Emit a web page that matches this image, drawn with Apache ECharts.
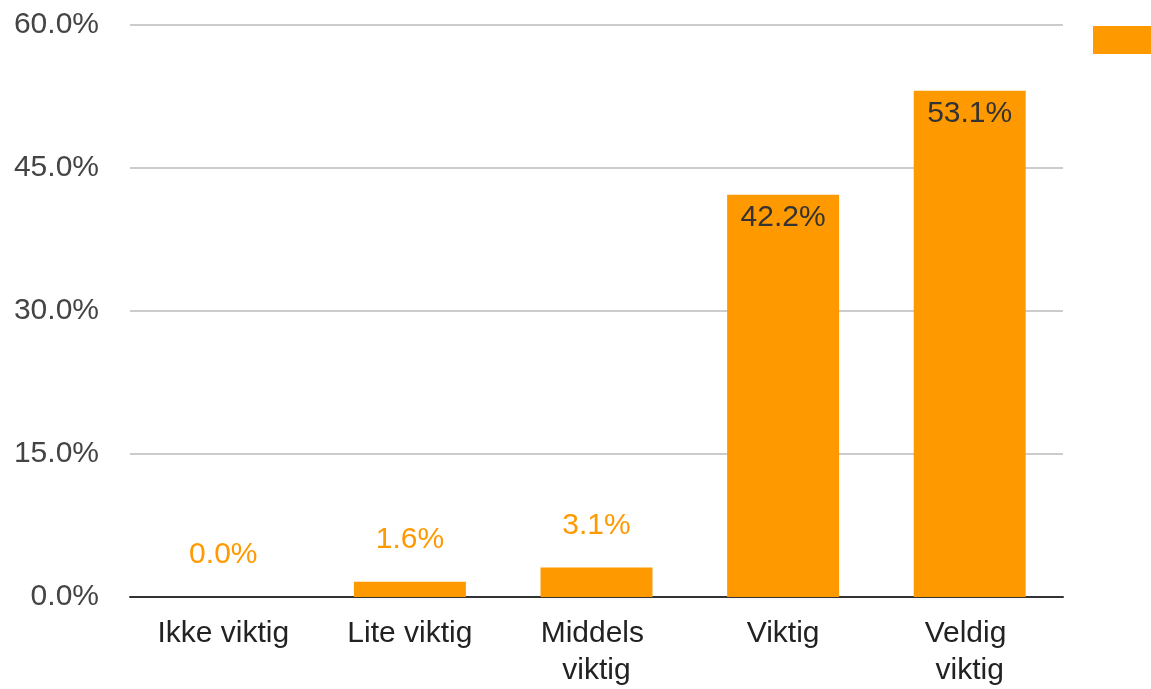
<!DOCTYPE html>
<html>
<head>
<meta charset="utf-8">
<script src="https://cdn.jsdelivr.net/npm/echarts@6/dist/echarts.min.js"></script>
<style>
  html, body { margin: 0; padding: 0; background: #fff; }
  #chart { width: 1151px; height: 689px; }
</style>
</head>
<body>
<div id="chart"></div>
<script>
var categories = ["Ikke viktig", "Lite viktig", "Middels viktig", "Viktig", "Veldig viktig"];
var values = [0.0, 1.6, 3.1, 42.2, 53.1];
var yTicks = { min: 0, max: 60, interval: 15 };

var chart = echarts.init(document.getElementById("chart"));

// small bars get the label above in orange, tall bars inside in dark grey
var barData = values.map(function(v) {
  var big = v > 10;
  return {
    value: v,
    label: big
      ? { position: "insideTop", distance: 8, color: "#333" }
      : { position: "top", distance: 27, color: "#ff9900" }
  };
});

var option = {
  animation: false,
  textStyle: { fontFamily: "Liberation Sans, Arial, sans-serif" },
  grid: { left: 130, right: 88, top: 25, bottom: 90 },
  legend: {
    left: 1088,
    top: 20,
    icon: "rect",
    itemWidth: 80,
    itemHeight: 28,
    itemStyle: { borderWidth: 0 },
    textStyle: { fontSize: 30, color: "#222" },
    data: ["Andel"]
  },
  xAxis: {
    type: "category",
    data: categories,
    axisTick: { show: false },
    axisLine: { lineStyle: { color: "#333", width: 2 } },
    axisLabel: {
      fontSize: 30,
      color: "#222",
      margin: 18,
      lineHeight: 37,
      width: 145,
      overflow: "break",
      interval: 0
    }
  },
  yAxis: {
    type: "value",
    min: yTicks.min,
    max: yTicks.max,
    interval: yTicks.interval,
    axisLine: { show: false },
    axisTick: { show: false },
    splitLine: { lineStyle: { color: "#ccc", width: 2 } },
    axisLabel: {
      fontSize: 30,
      color: "#444",
      margin: 31,
      formatter: function(v) { return v.toFixed(1) + "%"; }
    }
  },
  series: [
    {
      name: "Andel",
      type: "bar",
      barWidth: "60%",
      itemStyle: { color: "#ff9900" },
      label: {
        show: true,
        fontSize: 30,
        formatter: function(p) { return p.value.toFixed(1) + "%"; }
      },
      data: barData
    }
  ]
};

chart.setOption(option);
</script>
</body>
</html>
